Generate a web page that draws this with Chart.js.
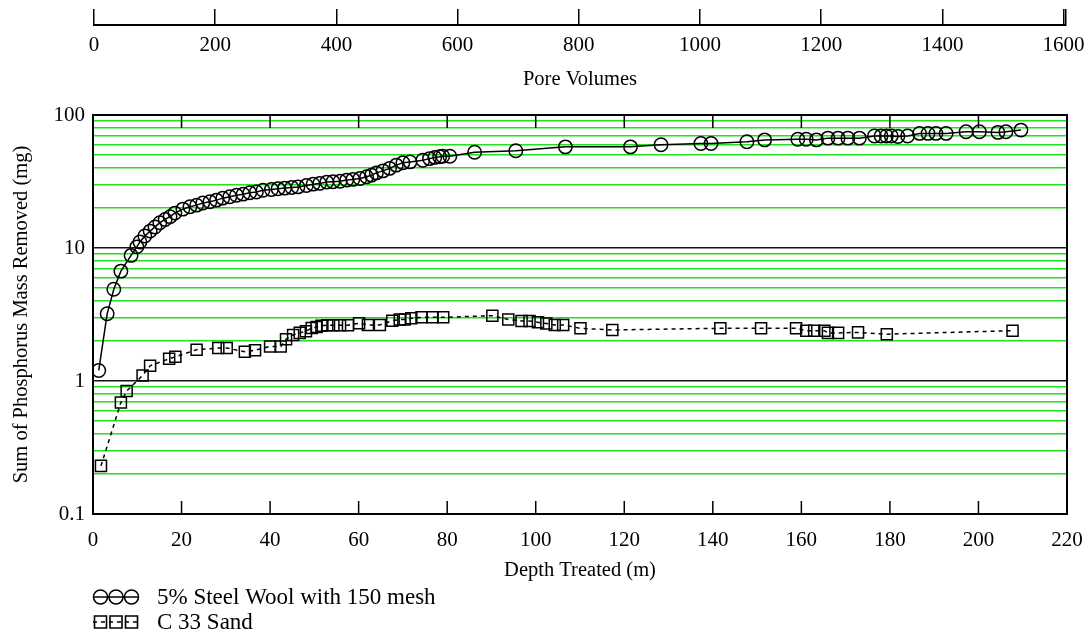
<!DOCTYPE html>
<html>
<head>
<meta charset="utf-8">
<script src="https://cdn.jsdelivr.net/npm/chart.js@4.4.1/dist/chart.umd.min.js"></script>
<style>
  html, body { margin: 0; padding: 0; background: #fff; }
  #wrap { position: relative; width: 1090px; height: 637px; }
  #wrap canvas { position: absolute; left: 0; top: 0; }
</style>
</head>
<body>
<div id="wrap">
  <canvas id="mainChart" width="1090" height="637"></canvas>
  <canvas id="poreChart" width="1090" height="100"></canvas>
</div>
<script>
// steel wool column (circles)
const steelDepth = [1.3, 3.2, 4.7, 6.3, 8.6, 9.9, 10.6, 11.7, 12.9, 14.0, 15.1, 16.3, 17.4, 18.5, 20.3, 21.9,
  23.4, 24.8, 26.4, 27.9, 29.3, 30.9, 32.4, 33.9, 35.4, 36.9, 38.4, 40.3, 41.8, 43.3, 44.9, 46.3, 48.2,
  49.7, 51.2, 52.8, 54.2, 55.8, 57.3, 58.7, 60.3, 61.8, 62.9, 64.0, 65.5, 67.0, 68.5, 70.0, 71.6, 74.5,
  76.0, 77.2, 78.3, 79.0, 80.6, 86.2, 95.5, 106.7, 121.4, 128.3, 137.3, 139.6, 147.7, 151.7, 159.2,
  161.1, 163.4, 166.0, 168.3, 170.5, 173.1, 176.5, 178.0, 179.2, 180.3, 181.8, 184.0, 186.7, 188.6,
  190.4, 192.7, 197.2, 200.2, 204.4, 206.2, 209.6];
const steelMass = [1.2, 3.2, 4.9, 6.7, 8.8, 10.2, 11.1, 12.3, 13.4, 14.4, 15.5, 16.4, 17.2, 18.3, 19.6, 20.4,
  21.0, 21.8, 22.3, 22.9, 23.7, 24.3, 24.9, 25.4, 26.0, 26.4, 27.2, 27.5, 27.9, 28.2, 28.5, 28.8, 29.5,
  30.2, 30.6, 31.3, 31.5, 31.8, 32.4, 32.8, 33.3, 34.3, 35.3, 36.7, 38.0, 39.7, 42.0, 43.7, 44.4, 45.7,
  47.0, 48.0, 48.5, 49.0, 49.0, 52.5, 53.9, 57.6, 57.6, 59.7, 61.0, 61.0, 63.0, 65.0, 65.8,
  65.8, 65.0, 67.0, 67.0, 67.0, 67.0, 69.5, 69.5, 69.5, 69.5, 68.9, 69.5, 72.7, 72.7,
  72.7, 72.7, 74.8, 74.8, 74.0, 74.8, 77.0];

// sand column (squares)
const sandDepth = [1.8, 6.3, 7.6, 11.2, 12.9, 17.2, 18.6, 23.4, 28.3, 30.2, 34.3, 36.6, 40.0, 42.4, 43.6,
  45.2, 46.7, 48.1, 49.4, 50.5, 51.6, 52.9, 54.3, 55.8, 57.6, 60.1, 62.1, 64.8, 67.6, 69.3, 70.4, 71.9,
  74.2, 76.7, 79.1, 90.2, 93.8, 96.8, 98.6, 100.5, 102.4, 104.3, 106.2, 110.1, 117.3, 141.7, 150.9,
  158.8, 161.1, 162.9, 165.2, 166.0, 168.3, 172.8, 179.3, 207.7];
const sandMass = [0.23, 0.69, 0.84, 1.1, 1.3, 1.47, 1.52, 1.72, 1.77, 1.77, 1.66, 1.70, 1.82, 1.82, 2.06,
  2.22, 2.30, 2.37, 2.50, 2.55, 2.60, 2.63, 2.63, 2.63, 2.63, 2.72, 2.64, 2.64, 2.84, 2.90, 2.90, 2.96,
  3.01, 3.01, 3.01, 3.10, 2.90, 2.83, 2.83, 2.76, 2.71, 2.64, 2.64, 2.49, 2.42, 2.49, 2.49,
  2.49, 2.39, 2.39, 2.39, 2.30, 2.30, 2.32, 2.25, 2.39];

const depthTicks = [0, 20, 40, 60, 80, 100, 120, 140, 160, 180, 200, 220];
const poreTicks = [0, 200, 400, 600, 800, 1000, 1200, 1400, 1600];
const massGrid = [0.1, 0.2, 0.3, 0.4, 0.5, 0.6, 0.7, 0.8, 0.9, 1, 2, 3, 4, 5, 6, 7, 8, 9,
  10, 20, 30, 40, 50, 60, 70, 80, 90, 100];
const massTickLabels = ['0.1', '1', '10', '100'];

const serif = "'Liberation Serif', 'Times New Roman', serif";
Chart.defaults.font.family = serif;
Chart.defaults.font.size = 21;
Chart.defaults.color = '#000';

function isDecade(v) {
    return massTickLabels.indexOf(String(v)) !== -1;
}

const gridColors = massGrid.map(v => isDecade(v) ? '#151515' : '#1ee31e');
const gridWidths = massGrid.map(v => isDecade(v) ? 1.6 : 1.4);

/*marco y marcas interiores*/
const framePlugin = {
    id: 'frame',
    afterDatasetsDraw(chart) {
        const {ctx, chartArea: a} = chart;
        const x = chart.scales.x;
        ctx.save();
        ctx.strokeStyle = '#000';
        ctx.lineWidth = 2;
        ctx.strokeRect(a.left, a.top, a.right - a.left, a.bottom - a.top);
        ctx.lineWidth = 1.5;
        ctx.beginPath();
        x.ticks.forEach(t => {
            const px = x.getPixelForValue(t.value);
            ctx.moveTo(px, a.bottom);
            ctx.lineTo(px, a.bottom - 13);
            ctx.moveTo(px, a.top);
            ctx.lineTo(px, a.top + 13);
        });
        ctx.stroke();
        ctx.restore();
    }
};

/*leyenda apilada*/
const legendPlugin = {
    id: 'stackedLegend',
    afterDraw(chart) {
        const ctx = chart.ctx;
        const rows = [597, 622];
        chart.data.datasets.forEach((ds, i) => {
            const y = rows[i];
            ctx.save();
            ctx.strokeStyle = '#000';
            ctx.lineWidth = 1.6;
            ctx.setLineDash(ds.borderDash || []);
            ctx.beginPath();
            ctx.moveTo(93, y);
            ctx.lineTo(139, y);
            ctx.stroke();
            ctx.setLineDash([]);
            [100.5, 116, 131.5].forEach(cx => {
                ctx.beginPath();
                if (ds.pointStyle === 'circle') {
                    ctx.arc(cx, y, 7, 0, Math.PI * 2);
                } else {
                    ctx.rect(cx - 6, y - 6, 12, 12);
                }
                ctx.stroke();
            });
            ctx.fillStyle = '#000';
            ctx.font = '23px ' + serif;
            ctx.textBaseline = 'middle';
            ctx.fillText(ds.label, 157, y + 1);
            ctx.restore();
        });
    }
};

new Chart(document.getElementById('mainChart'), {
    type: 'scatter',
    data: {
        datasets: [
            {
                label: '5% Steel Wool with 150 mesh',
                data: steelDepth.map((d, i) => ({x: d, y: steelMass[i]})),
                showLine: true,
                borderColor: '#000',
                borderWidth: 1.5,
                pointStyle: 'circle',
                pointRadius: 6.7,
                pointBorderWidth: 1.5,
                pointBorderColor: '#000',
                pointBackgroundColor: 'rgba(0,0,0,0)',
                tension: 0
            },
            {
                label: 'C 33 Sand',
                data: sandDepth.map((d, i) => ({x: d, y: sandMass[i]})),
                showLine: true,
                borderColor: '#000',
                borderWidth: 1.5,
                borderDash: [4, 4],
                pointStyle: 'rect',
                pointRadius: 7.8,
                pointBorderWidth: 1.5,
                pointBorderColor: '#000',
                pointBackgroundColor: 'rgba(0,0,0,0)',
                tension: 0
            }
        ]
    },
    options: {
        responsive: false,
        animation: false,
        layout: {padding: {top: 115, right: 23, bottom: 51, left: 0}},
        plugins: {
            legend: {display: false},
            tooltip: {enabled: false}
        },
        scales: {
            x: {
                type: 'linear',
                min: 0,
                max: 220,
                afterBuildTicks: s => { s.ticks = depthTicks.map(v => ({value: v})); },
                afterFit: s => { s.height = 72; s.paddingLeft = 0; s.paddingRight = 0; },
                grid: {display: false, drawTicks: false},
                border: {display: false},
                ticks: {padding: 14, autoSkip: false, maxRotation: 0},
                title: {display: true, text: 'Depth Treated (m)', font: {size: 20.5}, padding: {top: 0, bottom: 3}}
            },
            y: {
                type: 'logarithmic',
                min: 0.1,
                max: 100,
                afterBuildTicks: s => { s.ticks = massGrid.map(v => ({value: v})); },
                afterFit: s => { s.width = 93; s.paddingTop = 0; s.paddingBottom = 0; },
                grid: {
                    drawTicks: false,
                    color: gridColors,
                    lineWidth: gridWidths
                },
                border: {display: false},
                ticks: {
                    padding: 8,
                    autoSkip: false,
                    callback: v => isDecade(v) ? String(v) : ''
                },
                title: {display: true, text: 'Sum of Phosphorus Mass Removed (mg)', font: {size: 20.5}, padding: {top: 9, bottom: 0}}
            }
        }
    },
    plugins: [framePlugin, legendPlugin]
});

/*eje superior*/
new Chart(document.getElementById('poreChart'), {
    type: 'scatter',
    data: {datasets: []},
    options: {
        responsive: false,
        animation: false,
        layout: {padding: {top: 9, right: 24, bottom: 0, left: 94}},
        plugins: {
            legend: {display: false},
            tooltip: {enabled: false}
        },
        scales: {
            x: {
                type: 'linear',
                min: 0,
                max: 1604,
                afterBuildTicks: s => { s.ticks = poreTicks.concat([1604]).map(v => ({value: v})); },
                afterFit: s => { s.height = 75; s.paddingLeft = 0; s.paddingRight = 0; },
                grid: {color: '#000', lineWidth: 1.5, drawTicks: false},
                border: {color: '#000', width: 2},
                ticks: {
                    padding: 8,
                    autoSkip: false,
                    maxRotation: 0,
                    callback: v => poreTicks.indexOf(v) !== -1 ? String(v) : ''
                },
                title: {display: true, text: 'Pore Volumes', font: {size: 20.5}, padding: {top: 0, bottom: 8}}
            },
            y: {display: false}
        }
    }
});
</script>
</body>
</html>
